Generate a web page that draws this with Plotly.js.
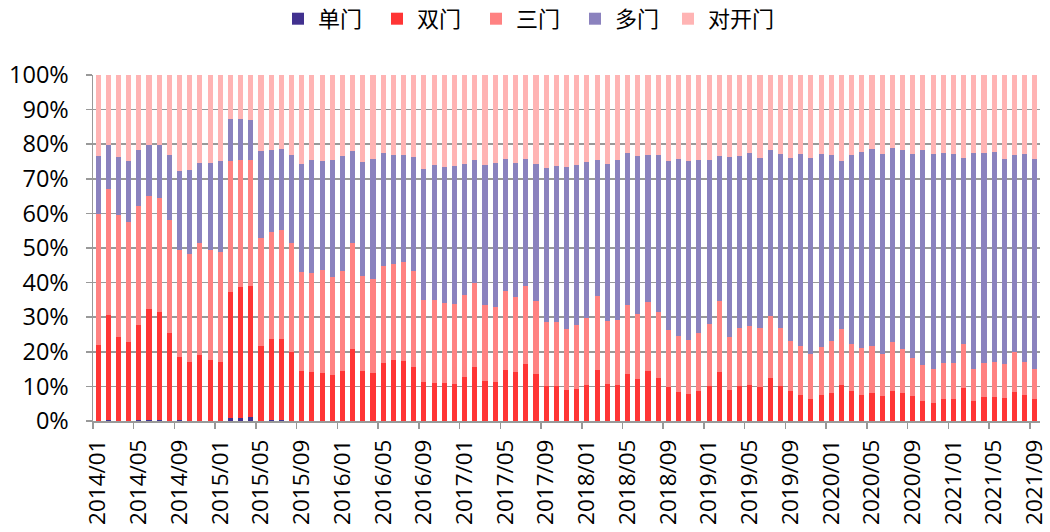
<!DOCTYPE html>
<html>
<head>
<meta charset="utf-8">
<script src="https://cdn.plot.ly/plotly-3.0.1.min.js"></script>
<style>html,body{margin:0;padding:0;background:#fff}#chart{width:1050px;height:532px}</style>
</head>
<body>
<div id="chart"></div>
<script>
var months = [
"2014/01","2014/02","2014/03","2014/04","2014/05","2014/06","2014/07","2014/08","2014/09","2014/10","2014/11","2014/12",
"2015/01","2015/02","2015/03","2015/04","2015/05","2015/06","2015/07","2015/08","2015/09","2015/10","2015/11","2015/12",
"2016/01","2016/02","2016/03","2016/04","2016/05","2016/06","2016/07","2016/08","2016/09","2016/10","2016/11","2016/12",
"2017/01","2017/02","2017/03","2017/04","2017/05","2017/06","2017/07","2017/08","2017/09","2017/10","2017/11","2017/12",
"2018/01","2018/02","2018/03","2018/04","2018/05","2018/06","2018/07","2018/08","2018/09","2018/10","2018/11","2018/12",
"2019/01","2019/02","2019/03","2019/04","2019/05","2019/06","2019/07","2019/08","2019/09","2019/10","2019/11","2019/12",
"2020/01","2020/02","2020/03","2020/04","2020/05","2020/06","2020/07","2020/08","2020/09","2020/10","2020/11","2020/12",
"2021/01","2021/02","2021/03","2021/04","2021/05","2021/06","2021/07","2021/08","2021/09"];

var danmen = [
0.05,0.2,0.05,0.05,0.2,0.3,0.3,0.05,0.2,0.05,0.05,0.05,
0.05,1.0,1.0,1.2,0.05,0.2,0.2,0.05,0.05,0.05,0.05,0.05,
0.05,0.05,0.05,0.05,0.05,0.05,0.05,0.05,0,0,0,0,
0,0,0,0,0,0,0,0,0,0,0,0,
0,0,0,0,0,0,0,0,0,0,0,0,
0,0,0,0,0,0,0,0,0,0,0,0,
0,0,0,0,0,0,0,0,0,0,0,0,
0,0,0,0,0,0,0,0,0];

var shuangmen = [
22.0,30.4,24.2,22.9,27.5,32.3,31.4,25.3,18.4,16.9,19.1,17.5,
16.9,36.2,37.6,37.9,21.7,23.6,23.6,20.0,14.5,14.2,13.7,13.2,
14.4,20.9,14.5,13.7,16.6,17.7,17.4,15.7,11.3,11.0,11.0,10.7,
12.6,15.7,11.6,11.3,14.6,14.1,16.5,13.5,10.1,10.1,9.0,9.3,
10.4,14.6,10.7,10.4,13.6,12.1,14.4,12.5,9.9,8.4,7.7,8.7,
10.1,14.2,9.0,10.1,10.4,9.8,12.3,10.1,8.7,7.4,6.5,7.6,
8.2,10.5,8.7,7.6,8.1,7.2,8.7,8.1,7.2,5.8,5.2,6.4,
6.4,9.5,5.8,6.9,7.0,6.7,8.4,7.5,6.4];

var sanmen = [
37.9,36.5,35.4,34.5,34.6,32.6,32.9,32.9,30.9,31.4,32.2,32.0,
31.9,37.9,36.8,36.3,31.3,30.8,31.4,31.3,28.5,28.6,29.8,28.5,
28.9,30.4,27.5,27.2,28.3,27.7,28.4,27.5,23.8,24.0,23.1,23.0,
23.8,24.2,21.9,21.6,23.1,21.6,22.5,21.1,18.6,18.6,17.7,18.4,
19.3,21.6,18.3,18.9,20.0,18.8,20.0,19.1,16.4,16.1,15.7,16.7,
17.9,20.6,15.3,16.9,17.2,17.1,18.0,16.7,14.3,14.2,12.8,13.8,
15.0,16.1,13.5,13.6,13.5,12.1,14.0,12.8,11.1,10.3,9.9,10.3,
10.4,12.7,9.1,10.0,10.1,9.8,11.4,9.5,8.7];

var duomen = [
16.6,12.8,16.6,17.8,16.3,14.8,15.4,18.7,22.9,24.3,23.3,25.0,
26.3,12.3,12.0,11.7,25.1,24.0,23.6,25.5,31.3,32.6,31.6,33.8,
33.2,26.7,32.8,34.8,32.5,31.4,31.0,33.0,37.7,38.9,39.2,39.9,
37.8,35.5,40.4,41.8,38.0,38.8,36.7,39.6,44.3,44.9,46.6,46.4,
45.3,39.2,45.2,46.1,43.8,45.7,42.4,45.2,48.8,51.2,51.7,50.0,
47.4,41.7,51.9,49.5,49.8,49.1,48.0,50.3,52.9,55.5,56.8,55.7,
53.6,48.5,54.6,56.5,57.0,57.8,56.1,57.4,58.8,62.2,62.0,60.7,
60.3,53.7,62.5,60.5,60.6,59.2,57.0,60.3,60.6];

var duikaimen = [
23.5,20.3,23.8,24.8,21.6,20.3,20.3,23.1,27.8,27.4,25.4,25.5,
24.9,12.6,12.6,12.9,21.9,21.6,21.4,23.2,25.7,24.6,24.9,24.5,
23.5,22.0,25.2,24.3,22.6,23.2,23.2,23.8,27.2,26.1,26.7,26.4,
25.8,24.6,26.1,25.3,24.3,25.5,24.3,25.8,27.0,26.4,26.7,25.9,
25.0,24.6,25.8,24.6,22.6,23.4,23.2,23.2,24.9,24.3,24.9,24.6,
24.6,23.5,23.8,23.5,22.6,24.0,21.7,22.9,24.1,22.9,23.9,22.9,
23.2,24.9,23.2,22.3,21.4,22.9,21.2,21.7,22.9,21.7,22.9,22.6,
22.9,24.1,22.6,22.6,22.3,24.3,23.2,22.7,24.3];

var seriesNames = ["单门","双门","三门","多门","对开门"];
var seriesColors = ["#41318f","#ff3535","#ff8282","#8b82be","#ffb4b4"];
var seriesData = [danmen, shuangmen, sanmen, duomen, duikaimen];
var seriesLegend = ["legend","legend","legend","legend","legend2"];

var traces = seriesData.map(function(d, i){
  return {type:'bar', name: seriesNames[i], x: months, y: d, legend: seriesLegend[i],
          marker:{color: seriesColors[i], line:{width:0}}};
});

var legendFont = {family:'"Noto Sans CJK SC", sans-serif', size:22, color:'#000'};
var layout = {
  width:1050, height:532,
  margin:{l:93, r:10, t:75, b:111},
  barmode:'stack', barnorm:'fraction', bargap:0.5,
  paper_bgcolor:'#fff', plot_bgcolor:'#fff',
  font:{family:'"Open Sans", sans-serif', size:22, color:'#000'},
  showlegend:true,
  legend:{orientation:'h', x:278/1050, xanchor:'left', xref:'container', y:0.925, yanchor:'bottom', yref:'container',
          font:legendFont, traceorder:'normal', itemwidth:30, entrywidth:54},
  legend2:{orientation:'h', x:668/1050, xanchor:'left', xref:'container', y:0.925, yanchor:'bottom', yref:'container',
          font:legendFont, traceorder:'normal', itemwidth:30},
  xaxis:{type:'category', tickmode:'linear', dtick:4, tick0:0, tickangle:-90,
         tickson:'boundaries', ticks:'outside', ticklen:6, tickcolor:'#999', tickwidth:1.5,
         showline:true, linecolor:'#999', linewidth:1.5, showgrid:false,
         ticklabelstandoff:8,
         tickfont:{size:22.5}, range:[-0.5, 92.5]},
  yaxis:{range:[0,1], dtick:0.1, tickformat:'.0%', showgrid:true, gridcolor:'#999', gridwidth:1.5,
         ticks:'outside', ticklen:6, tickcolor:'#999', tickwidth:1.5,
         ticklabelstandoff:12,
         showline:true, linecolor:'#999', linewidth:1.5, zeroline:false, tickfont:{size:23.5}}
};

Plotly.newPlot('chart', traces, layout, {displayModeBar:false, staticPlot:true});
</script>
</body>
</html>
